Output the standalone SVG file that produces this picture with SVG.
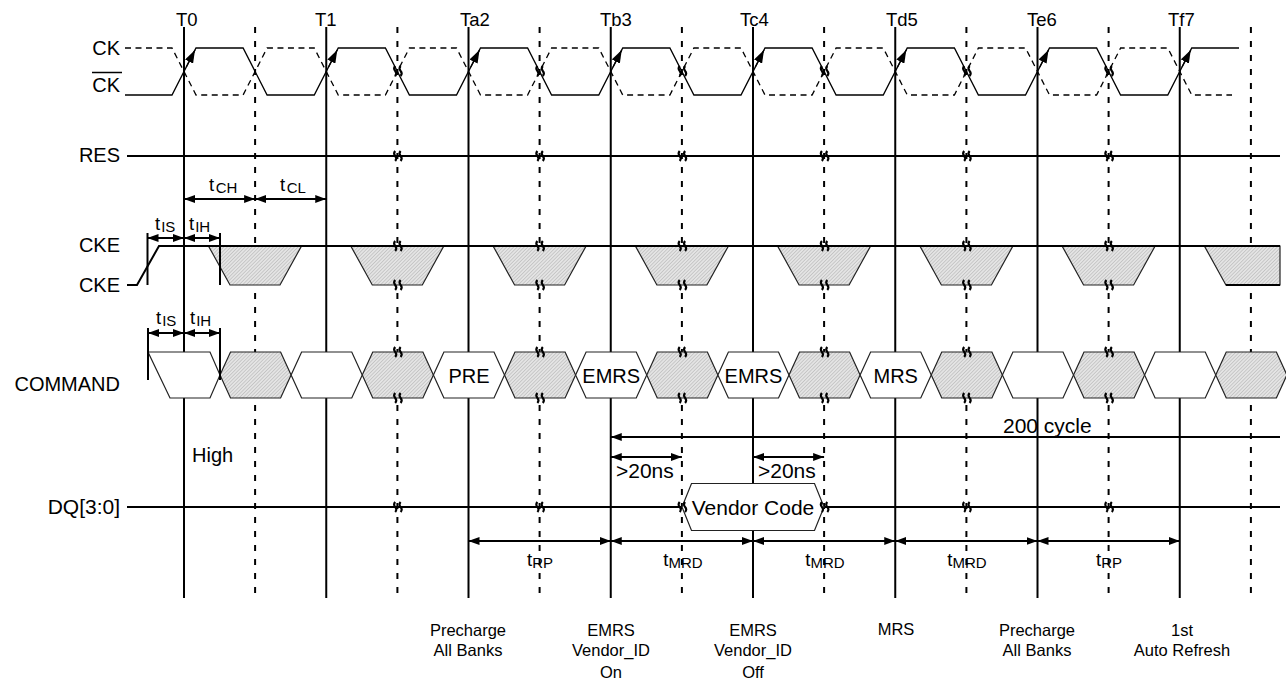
<svg xmlns="http://www.w3.org/2000/svg" width="1286" height="686" viewBox="0 0 1286 686">
<style>
text{font-family:"Liberation Sans",Arial,sans-serif;fill:#000}
.lbl{font-size:20px;text-anchor:end}
.tl{font-size:18.5px}
.cell{font-size:20px;text-anchor:middle}
.big{font-size:21px}
.bot{font-size:16.5px;text-anchor:middle}
.t{font-size:18.5px}
.sub{font-size:15px}
.mid{text-anchor:middle}
.vs{stroke:#000;stroke-width:2;fill:none}
.vd{stroke:#000;stroke-width:2;stroke-dasharray:6 8;fill:none}
.wave{stroke:#000;stroke-width:1.3;fill:none}
.wdash{stroke:#000;stroke-width:1.3;fill:none;stroke-dasharray:6 4.5}
.sig{stroke:#000;stroke-width:2;fill:none}
.sh{fill:url(#hatch);stroke:#222;stroke-width:1.2}
.wh{fill:#fff;stroke:#222;stroke-width:1.2}
.dim{stroke:#000;stroke-width:2;fill:none;marker-start:url(#ah);marker-end:url(#ah)}
.dim1{stroke:#000;stroke-width:2;fill:none;marker-start:url(#ah)}
.ckarr{stroke:#000;stroke-width:1.3;fill:none;marker-end:url(#ahc)}
.tick{stroke:#000;stroke-width:2}
</style>
<defs>
<pattern id="hatch" width="2.5" height="2.5" patternUnits="userSpaceOnUse" patternTransform="rotate(45)">
<rect width="2.5" height="2.5" fill="#e4e4e4"/>
<line x1="0" y1="0" x2="0" y2="2.5" stroke="#a8a8a8" stroke-width="0.9"/>
</pattern>
<marker id="ah" viewBox="0 0 11 8" refX="11" refY="4" markerWidth="11" markerHeight="8" markerUnits="userSpaceOnUse" orient="auto-start-reverse">
<path d="M0,0 L11,4 L0,8 z" fill="#000"/>
</marker>
<marker id="ahc" viewBox="0 0 13 9" refX="13" refY="4.5" markerWidth="13" markerHeight="9" markerUnits="userSpaceOnUse" orient="auto">
<path d="M0,0 L13,4.5 L0,9 z" fill="#000"/>
</marker>
<g id="brk"><path d="M-2.8,-5 Q-5,-2.5 -2.8,0 T-2.8,5 M2.6,-5 Q0.4,-2.5 2.6,0 T2.6,5" fill="none" stroke="#000" stroke-width="2.1"/></g>
</defs>
<rect width="1286" height="686" fill="#fff"/>

<g id="grid">
<line class="vs" x1="184" y1="27" x2="184" y2="598"/>
<line class="vs" x1="326.25" y1="27" x2="326.25" y2="598"/>
<line class="vs" x1="468.5" y1="27" x2="468.5" y2="598"/>
<line class="vs" x1="610.75" y1="27" x2="610.75" y2="598"/>
<line class="vs" x1="753" y1="27" x2="753" y2="598"/>
<line class="vs" x1="895.25" y1="27" x2="895.25" y2="598"/>
<line class="vs" x1="1037.5" y1="27" x2="1037.5" y2="598"/>
<line class="vs" x1="1179.75" y1="27" x2="1179.75" y2="598"/>
<line class="vd" x1="255.1" y1="27" x2="255.1" y2="598"/>
<line class="vd" x1="397.4" y1="27" x2="397.4" y2="598"/>
<line class="vd" x1="539.6" y1="27" x2="539.6" y2="598"/>
<line class="vd" x1="681.9" y1="27" x2="681.9" y2="598"/>
<line class="vd" x1="824.1" y1="27" x2="824.1" y2="598"/>
<line class="vd" x1="966.4" y1="27" x2="966.4" y2="598"/>
<line class="vd" x1="1108.6" y1="27" x2="1108.6" y2="598"/>
<line class="vd" x1="1250.9" y1="27" x2="1250.9" y2="598"/>
</g>

<g id="ticks">
<text class="tl" x="176" y="26">T0</text>
<text class="tl" x="315" y="26">T1</text>
<text class="tl" x="460" y="26">Ta2</text>
<text class="tl" x="600" y="26">Tb3</text>
<text class="tl" x="740" y="26">Tc4</text>
<text class="tl" x="886" y="26">Td5</text>
<text class="tl" x="1027" y="26">Te6</text>
<text class="tl" x="1168" y="26">Tf7</text>
</g>

<g id="signal-ck">
<text class="lbl" x="120" y="55">CK</text>
<text class="lbl" x="120" y="92">CK</text>
<line x1="92" y1="72.5" x2="122" y2="72.5" stroke="#000" stroke-width="1.5"/>
<path class="wave" d="M125,95 L172,95 L196,48 L243.1,48 L267.1,95 L314.25,95 L338.25,48 L385.4,48 L409.4,95 L456.5,95 L480.5,48 L527.6,48 L551.6,95 L598.75,95 L622.75,48 L669.9,48 L693.9,95 L741,95 L765,48 L812.1,48 L836.1,95 L883.25,95 L907.25,48 L954.4,48 L978.4,95 L1025.5,95 L1049.5,48 L1096.6,48 L1120.6,95 L1167.75,95 L1191.75,48 L1239,48"/>
<path class="wdash" d="M125,48 L172,48 L196,95 L243.1,95 L267.1,48 L314.25,48 L338.25,95 L385.4,95 L409.4,48 L456.5,48 L480.5,95 L527.6,95 L551.6,48 L598.75,48 L622.75,95 L669.9,95 L693.9,48 L741,48 L765,95 L812.1,95 L836.1,48 L883.25,48 L907.25,95 L954.4,95 L978.4,48 L1025.5,48 L1049.5,95 L1096.6,95 L1120.6,48 L1167.75,48 L1191.75,95 L1232,95"/>
<line class="ckarr" x1="186.3" y1="67" x2="195" y2="50"/>
<line class="ckarr" x1="328.55" y1="67" x2="337.25" y2="50"/>
<line class="ckarr" x1="470.8" y1="67" x2="479.5" y2="50"/>
<line class="ckarr" x1="613.05" y1="67" x2="621.75" y2="50"/>
<line class="ckarr" x1="755.3" y1="67" x2="764" y2="50"/>
<line class="ckarr" x1="897.55" y1="67" x2="906.25" y2="50"/>
<line class="ckarr" x1="1039.8" y1="67" x2="1048.5" y2="50"/>
<line class="ckarr" x1="1182.05" y1="67" x2="1190.75" y2="50"/>
<use href="#brk" x="398" y="71"/>
<use href="#brk" x="540.2" y="71"/>
<use href="#brk" x="682.5" y="71"/>
<use href="#brk" x="824.7" y="71"/>
<use href="#brk" x="967" y="71"/>
<use href="#brk" x="1109.2" y="71"/>
</g>

<g id="signal-res">
<text class="lbl" x="120" y="162">RES</text>
<line class="sig" x1="127" y1="156" x2="1280" y2="156"/>
<use href="#brk" x="398" y="156"/>
<use href="#brk" x="540.2" y="156"/>
<use href="#brk" x="682.5" y="156"/>
<use href="#brk" x="824.7" y="156"/>
<use href="#brk" x="967" y="156"/>
<use href="#brk" x="1109.2" y="156"/>
</g>

<g id="signal-cke">
<text class="lbl" x="120" y="252">CKE</text>
<text class="lbl" x="120" y="292">CKE</text>
<path class="sig" d="M127,285 L137,285 L159,246 L1280,246"/>
<polygon class="sh" points="208.5,246 301.5,246 280,285 230,285"/>
<polygon class="sh" points="350.8,246 443.8,246 422.3,285 372.3,285"/>
<polygon class="sh" points="493.1,246 586.1,246 564.6,285 514.6,285"/>
<polygon class="sh" points="635.4,246 728.4,246 706.9,285 656.9,285"/>
<polygon class="sh" points="777.6,246 870.6,246 849.1,285 799.1,285"/>
<polygon class="sh" points="919.9,246 1012.9,246 991.4,285 941.4,285"/>
<polygon class="sh" points="1062.1,246 1155.1,246 1133.6,285 1083.6,285"/>
<polygon class="sh" points="1204.4,246 1280,246 1280,285 1225.9,285"/>
<line class="sig" x1="159" y1="246" x2="1280" y2="246"/>
<line class="sig" x1="1225.9" y1="285" x2="1280" y2="285"/>
<use href="#brk" x="398" y="246"/><use href="#brk" x="398" y="285"/>
<use href="#brk" x="540.2" y="246"/><use href="#brk" x="540.2" y="285"/>
<use href="#brk" x="682.5" y="246"/><use href="#brk" x="682.5" y="285"/>
<use href="#brk" x="824.7" y="246"/><use href="#brk" x="824.7" y="285"/>
<use href="#brk" x="967" y="246"/><use href="#brk" x="967" y="285"/>
<use href="#brk" x="1109.2" y="246"/><use href="#brk" x="1109.2" y="285"/>
</g>

<g id="signal-command">
<text class="lbl" x="120" y="391">COMMAND</text>
<polygon class="wh" points="148,352 210,352 220,375 210,398 170,398"/>
<polygon class="sh" points="220,375 230.5,352 280.6,352 291.1,375 280.6,398 230.5,398"/>
<polygon class="wh" points="291.1,375 301.6,352 351.75,352 362.25,375 351.75,398 301.6,398"/>
<polygon class="sh" points="362.25,375 372.75,352 422.9,352 433.4,375 422.9,398 372.75,398"/>
<polygon class="wh" points="433.4,375 443.9,352 494,352 504.5,375 494,398 443.9,398"/>
<polygon class="sh" points="504.5,375 515,352 565.1,352 575.6,375 565.1,398 515,398"/>
<polygon class="wh" points="575.6,375 586.1,352 636.25,352 646.75,375 636.25,398 586.1,398"/>
<polygon class="sh" points="646.75,375 657.25,352 707.4,352 717.9,375 707.4,398 657.25,398"/>
<polygon class="wh" points="717.9,375 728.4,352 778.5,352 789,375 778.5,398 728.4,398"/>
<polygon class="sh" points="789,375 799.5,352 849.6,352 860.1,375 849.6,398 799.5,398"/>
<polygon class="wh" points="860.1,375 870.6,352 920.75,352 931.25,375 920.75,398 870.6,398"/>
<polygon class="sh" points="931.25,375 941.75,352 991.9,352 1002.4,375 991.9,398 941.75,398"/>
<polygon class="wh" points="1002.4,375 1012.9,352 1063,352 1073.5,375 1063,398 1012.9,398"/>
<polygon class="sh" points="1073.5,375 1084,352 1134.1,352 1144.6,375 1134.1,398 1084,398"/>
<polygon class="wh" points="1144.6,375 1155.1,352 1205.25,352 1215.75,375 1205.25,398 1155.1,398"/>
<polygon class="sh" points="1215.75,375 1226.25,352 1276.4,352 1286.9,375 1276.4,398 1226.25,398"/>
<text class="cell" x="469" y="383">PRE</text>
<text class="cell" x="611.2" y="383">EMRS</text>
<text class="cell" x="753.5" y="383">EMRS</text>
<text class="cell" x="895.7" y="383">MRS</text>
<use href="#brk" x="398" y="352"/><use href="#brk" x="398" y="398"/>
<use href="#brk" x="540.2" y="352"/><use href="#brk" x="540.2" y="398"/>
<use href="#brk" x="682.5" y="352"/><use href="#brk" x="682.5" y="398"/>
<use href="#brk" x="824.7" y="352"/><use href="#brk" x="824.7" y="398"/>
<use href="#brk" x="967" y="352"/><use href="#brk" x="967" y="398"/>
<use href="#brk" x="1109.2" y="352"/><use href="#brk" x="1109.2" y="398"/>
<text x="192" y="462" style="font-size:20px">High</text>
</g>

<g id="signal-dq">
<text class="lbl" x="120" y="514" style="font-size:21px">DQ[3:0]</text>
<line class="sig" x1="127" y1="507" x2="1280" y2="507"/>
<polygon class="wh" points="682,507 691.5,483.5 814.5,483.5 824,507 814.5,530.5 691.5,530.5"/>
<text class="big mid" x="753" y="515">Vendor Code</text>
<use href="#brk" x="398" y="507"/>
<use href="#brk" x="540.2" y="507"/>
<use href="#brk" x="682.5" y="507"/>
<use href="#brk" x="824.7" y="507"/>
<use href="#brk" x="967" y="507"/>
<use href="#brk" x="1109.2" y="507"/>
</g>

<g id="connectors">
<line class="dim" x1="184" y1="199" x2="255.1" y2="199"/>
<line class="dim" x1="255.1" y1="199" x2="326.25" y2="199"/>
<line class="tick" x1="147.5" y1="233" x2="147.5" y2="285"/>
<line class="tick" x1="220" y1="233" x2="220" y2="285"/>
<line class="dim" x1="147.5" y1="238" x2="184" y2="238"/>
<line class="dim" x1="184" y1="238" x2="220" y2="238"/>
<line class="tick" x1="148" y1="328" x2="148" y2="380"/>
<line class="tick" x1="220" y1="328" x2="220" y2="380"/>
<line class="dim" x1="148" y1="333" x2="184" y2="333"/>
<line class="dim" x1="184" y1="333" x2="220" y2="333"/>
<line class="dim1" x1="610.75" y1="437" x2="1280" y2="437"/>
<line class="dim" x1="610.75" y1="457" x2="681.9" y2="457"/>
<line class="dim" x1="753" y1="457" x2="824.1" y2="457"/>
<line class="dim" x1="468.5" y1="541" x2="610.75" y2="541"/>
<line class="dim" x1="610.75" y1="541" x2="753" y2="541"/>
<line class="dim" x1="753" y1="541" x2="895.25" y2="541"/>
<line class="dim" x1="895.25" y1="541" x2="1037.5" y2="541"/>
<line class="dim" x1="1037.5" y1="541" x2="1179.75" y2="541"/>
</g>

<g id="timing-labels">
<text class="t" x="209" y="191">t<tspan class="sub" dy="2" dx="1.5">CH</tspan></text>
<text class="t" x="280" y="191">t<tspan class="sub" dy="2" dx="1.5">CL</tspan></text>
<text class="t" x="155" y="230">t<tspan class="sub" dy="2" dx="1">IS</tspan></text>
<text class="t" x="189" y="230">t<tspan class="sub" dy="2" dx="1">IH</tspan></text>
<text class="t" x="156" y="324">t<tspan class="sub" dy="2" dx="1">IS</tspan></text>
<text class="t" x="190" y="324">t<tspan class="sub" dy="2" dx="1">IH</tspan></text>
<text class="t mid" x="540" y="566">t<tspan class="sub" dy="2">RP</tspan></text>
<text class="t mid" x="683" y="566">t<tspan class="sub" dy="2">MRD</tspan></text>
<text class="t mid" x="825" y="566">t<tspan class="sub" dy="2">MRD</tspan></text>
<text class="t mid" x="967" y="566">t<tspan class="sub" dy="2">MRD</tspan></text>
<text class="t mid" x="1109" y="566">t<tspan class="sub" dy="2">RP</tspan></text>
<text class="big" x="1003" y="433">200 cycle</text>
<text class="big" x="616" y="478">&gt;20ns</text>
<text class="big" x="758" y="478">&gt;20ns</text>
</g>

<g id="annotations">
<text class="bot" x="468" y="636">Precharge</text>
<text class="bot" x="468" y="656">All Banks</text>
<text class="bot" x="611" y="636">EMRS</text>
<text class="bot" x="611" y="656">Vendor_ID</text>
<text class="bot" x="611" y="678">On</text>
<text class="bot" x="753" y="636">EMRS</text>
<text class="bot" x="753" y="656">Vendor_ID</text>
<text class="bot" x="753" y="678">Off</text>
<text class="bot" x="896" y="635">MRS</text>
<text class="bot" x="1037" y="636">Precharge</text>
<text class="bot" x="1037" y="656">All Banks</text>
<text class="bot" x="1182" y="636">1st</text>
<text class="bot" x="1182" y="656">Auto Refresh</text>
</g>
</svg>
